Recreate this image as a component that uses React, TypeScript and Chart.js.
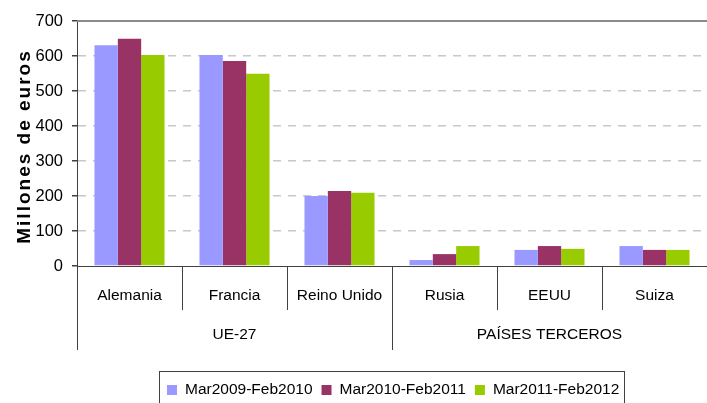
import React, { useEffect, useRef } from "react";
import { Chart, registerables } from "chart.js";

Chart.register(...registerables);

const categories = ["Alemania", "Francia", "Reino Unido", "Rusia", "EEUU", "Suiza"];
const groupLabels = ["UE-27", "PAÍSES TERCEROS"];
const groupSizes = [3, 3];
const seriesNames = ["Mar2009-Feb2010", "Mar2010-Feb2011", "Mar2011-Feb2012"];
const seriesColors = ["#9999FF", "#993366", "#99CC00"];
const s2009 = [631, 603, 200, 17, 46, 57];
const s2010 = [649, 586, 214, 34, 57, 46];
const s2011 = [603, 549, 209, 57, 49, 46];
const yTitle = "Millones de euros";
const FONT = '"Liberation Sans", Arial, sans-serif';

const overlay = {
  id: "overlay",
  afterDraw(chart: any) {
    const { ctx, chartArea } = chart;
    const x = chart.scales.x;
    const { left, right, top, bottom } = chartArea;
    ctx.save();
    // top solid line
    ctx.strokeStyle = "#8a8a8a";
    ctx.lineWidth = 2;
    ctx.beginPath();
    ctx.moveTo(left, top);
    ctx.lineTo(right, top);
    ctx.stroke();

    // separators
    ctx.strokeStyle = "#404040";
    ctx.lineWidth = 1;
    const boundaries = new Set<number>();
    let acc = 0;
    boundaries.add(0);
    groupSizes.forEach((g) => {
      acc += g;
      boundaries.add(acc);
    });
    for (let i = 0; i < categories.length; i++) {
      let px: number;
      if (i === 0) px = left;
      else px = (x.getPixelForValue(i - 1) + x.getPixelForValue(i)) / 2;
      px = Math.round(px) + 0.5;
      const isGroup = boundaries.has(i);
      ctx.beginPath();
      ctx.moveTo(px, bottom);
      ctx.lineTo(px, bottom + (isGroup ? 84 : 44));
      ctx.stroke();
    }

    // category labels
    ctx.fillStyle = "#000";
    ctx.font = `15.5px ${FONT}`;
    ctx.textAlign = "center";
    ctx.textBaseline = "middle";
    categories.forEach((c, i) => {
      ctx.fillText(c, x.getPixelForValue(i), bottom + 30);
    });
    // group labels
    let start = 0;
    groupLabels.forEach((g, gi) => {
      const end = start + groupSizes[gi];
      const l = start === 0 ? left : (x.getPixelForValue(start - 1) + x.getPixelForValue(start)) / 2;
      const r = end === categories.length ? right : (x.getPixelForValue(end - 1) + x.getPixelForValue(end)) / 2;
      ctx.fillText(g, (l + r) / 2, bottom + 69);
      start = end;
    });

    // y title
    ctx.save();
    ctx.translate(25, (top + bottom) / 2 + 3);
    ctx.rotate(-Math.PI / 2);
    ctx.font = `bold 19px ${FONT}`;
    (ctx as any).letterSpacing = "2px";
    ctx.textAlign = "center";
    ctx.textBaseline = "middle";
    ctx.fillText(yTitle, 0, 0);
    ctx.restore();

    // legend
    ctx.strokeStyle = "#404040";
    ctx.lineWidth = 1;
    ctx.strokeRect(159.5, 371.5, 465, 40);
    ctx.font = `15.5px ${FONT}`;
    ctx.textAlign = "left";
    ctx.textBaseline = "middle";
    let lx = 167;
    seriesNames.forEach((n, i) => {
      ctx.fillStyle = seriesColors[i];
      ctx.fillRect(lx, 385, 10, 10);
      ctx.fillStyle = "#000";
      ctx.fillText(n, lx + 18, 390);
      lx += 18 + ctx.measureText(n).width + 9;
    });
    ctx.restore();
  },
};

export default function App() {
  const ref = useRef<HTMLCanvasElement>(null);
  useEffect(() => {
    if (!ref.current) return;
    Chart.defaults.font.family = FONT;
    const chart = new Chart(ref.current, {
      type: "bar",
      data: {
        labels: categories,
        datasets: [s2009, s2010, s2011].map((d, i) => ({
          label: seriesNames[i],
          data: d,
          backgroundColor: seriesColors[i],
          borderWidth: 0,
          categoryPercentage: 0.667,
          barPercentage: 1.0,
        })),
      },
      options: {
        responsive: false,
        animation: false,
        layout: { padding: { top: 21, right: 0, left: 0, bottom: 0 } },
        plugins: { legend: { display: false }, tooltip: { enabled: false } },
        scales: {
          x: {
            grid: { display: false },
            ticks: { display: false },
            border: { display: true, color: "#404040", width: 1 },
            afterFit: (s: any) => {
              s.height = 137;
            },
          },
          y: {
            min: 0,
            max: 700,
            ticks: { stepSize: 100, color: "#000", padding: 9, font: { size: 16.5, family: FONT } },
            grid: {
              color: (c: any) => (c.tick && (c.tick.value === 0 || c.tick.value === 700) ? "rgba(0,0,0,0)" : "#c8c8c8"),
              tickColor: "#404040",
              tickLength: 5,
              lineWidth: 1.5,
            },
            border: { display: true, color: "#404040", width: 1, dash: [8, 7] },
            afterFit: (s: any) => {
              s.width = 77;
            },
          },
        },
      },
      plugins: [overlay],
    });
    return () => chart.destroy();
  }, []);
  return (
    <div style={{ position: "fixed", left: 0, top: 0, width: 707, height: 403, background: "#fff" }}>
      <canvas ref={ref} width={707} height={403} />
    </div>
  );
}
